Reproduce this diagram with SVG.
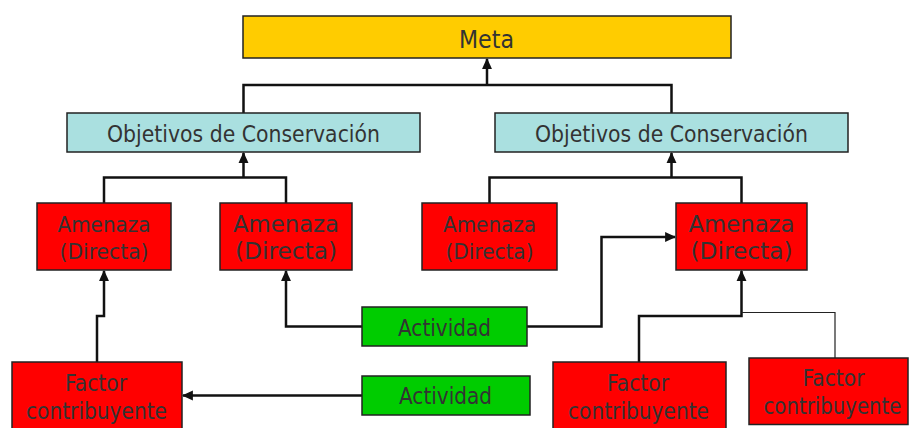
<svg xmlns="http://www.w3.org/2000/svg" width="909" height="428" viewBox="0 0 909 428">
<style>
.box{stroke:#222;stroke-width:1.5}
.meta{fill:#FFCC00}
.obj{fill:#AAE0E0}
.red{fill:#FF0000}
.grn{fill:#00CC00}
text{font-family:"DejaVu Sans","Liberation Sans",sans-serif;fill:#333;text-anchor:middle}
.c{fill:none;stroke:#111;stroke-width:2.5}
.thin{fill:none;stroke:#222;stroke-width:1.2}
</style>
<defs>
<marker id="ah" markerUnits="userSpaceOnUse" markerWidth="11" markerHeight="11" viewBox="0 0 10 10" refX="9" refY="5" orient="auto">
<path d="M0,0.5 L10,5 L0,9.5 Z" fill="#111"/>
</marker>
</defs>
<g id="connectors">
<path class="c" d="M243.5,113 V85 H671.5 V113"/>
<path class="c" d="M487,85 V59" marker-end="url(#ah)"/>
<path class="c" d="M104,203 V177.5 H286 V203"/>
<path class="c" d="M243.5,177.5 V153" marker-end="url(#ah)"/>
<path class="c" d="M489.5,203 V177.5 H741.5 V203"/>
<path class="c" d="M671.5,177.5 V153" marker-end="url(#ah)"/>
<path class="c" d="M362,326.5 H286 V271" marker-end="url(#ah)"/>
<path class="c" d="M527,326.5 H601.5 V237 H675" marker-end="url(#ah)"/>
<path class="c" d="M97,362 V316 H104 V271" marker-end="url(#ah)"/>
<path class="c" d="M362,395.5 H183" marker-end="url(#ah)"/>
<path class="c" d="M639,362 V316 H741.5 V271" marker-end="url(#ah)"/>
<path class="thin" d="M835,358 V312.5 H741.5"/>
</g>
<g id="meta"><rect class="box meta" x="243" y="16" width="488" height="42"/><text x="486.5" y="48" font-size="24" textLength="55" lengthAdjust="spacingAndGlyphs">Meta</text></g>
<g id="obj1"><rect class="box obj" x="67" y="113" width="353" height="39"/><text x="243.5" y="141.5" font-size="23" textLength="273" lengthAdjust="spacingAndGlyphs">Objetivos de Conservación</text></g>
<g id="obj2"><rect class="box obj" x="495" y="113" width="353" height="39"/><text x="671.5" y="141.5" font-size="23" textLength="273" lengthAdjust="spacingAndGlyphs">Objetivos de Conservación</text></g>
<g id="amenaza1"><rect class="box red" x="37" y="203" width="134" height="67"/><text x="104" y="231.5" font-size="20.5" textLength="93" lengthAdjust="spacingAndGlyphs">Amenaza</text><text x="104" y="258.5" font-size="20.5" textLength="89" lengthAdjust="spacingAndGlyphs">(Directa)</text></g>
<g id="amenaza2"><rect class="box red" x="220" y="203" width="132" height="67"/><text x="286" y="231.5" font-size="22.5" textLength="106" lengthAdjust="spacingAndGlyphs">Amenaza</text><text x="286" y="258.5" font-size="22.5" textLength="102" lengthAdjust="spacingAndGlyphs">(Directa)</text></g>
<g id="amenaza3"><rect class="box red" x="422" y="203" width="135" height="67"/><text x="489.5" y="231.5" font-size="20.5" textLength="93" lengthAdjust="spacingAndGlyphs">Amenaza</text><text x="489.5" y="258.5" font-size="20.5" textLength="88" lengthAdjust="spacingAndGlyphs">(Directa)</text></g>
<g id="amenaza4"><rect class="box red" x="676" y="203" width="131" height="67"/><text x="741.5" y="231.5" font-size="22.5" textLength="106" lengthAdjust="spacingAndGlyphs">Amenaza</text><text x="741.5" y="258.5" font-size="22.5" textLength="102" lengthAdjust="spacingAndGlyphs">(Directa)</text></g>
<g id="actividad1"><rect class="box grn" x="362" y="307" width="165" height="39"/><text x="444.5" y="336" font-size="23" textLength="93" lengthAdjust="spacingAndGlyphs">Actividad</text></g>
<g id="actividad2"><rect class="box grn" x="362" y="376" width="168" height="39"/><text x="445.5" y="404" font-size="23" textLength="93" lengthAdjust="spacingAndGlyphs">Actividad</text></g>
<g id="factor1"><rect class="box red" x="12" y="362" width="170" height="70"/><text x="96" y="391" font-size="23" textLength="62" lengthAdjust="spacingAndGlyphs">Factor</text><text x="96.5" y="418.5" font-size="23" textLength="141" lengthAdjust="spacingAndGlyphs">contribuyente</text></g>
<g id="factor2"><rect class="box red" x="553" y="362" width="173" height="70"/><text x="638" y="391" font-size="23" textLength="62" lengthAdjust="spacingAndGlyphs">Factor</text><text x="638.5" y="418.5" font-size="23" textLength="141" lengthAdjust="spacingAndGlyphs">contribuyente</text></g>
<g id="factor3"><rect class="box red" x="749" y="358" width="159" height="66.5"/><text x="833.5" y="386" font-size="23" textLength="62" lengthAdjust="spacingAndGlyphs">Factor</text><text x="832.5" y="414" font-size="22.5" textLength="138" lengthAdjust="spacingAndGlyphs">contribuyente</text></g>
</svg>
